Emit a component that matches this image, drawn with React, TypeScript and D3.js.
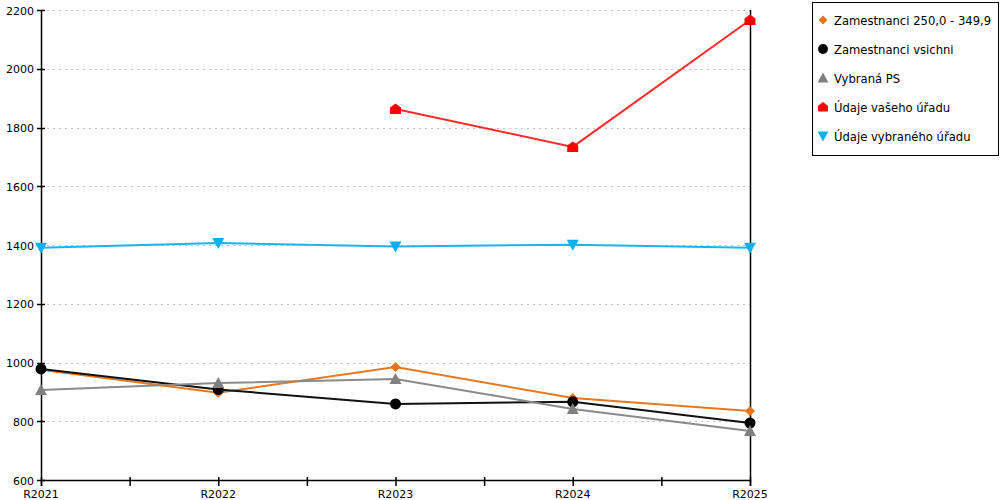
import React from "react";
import * as d3 from "d3";

const categories = ["R2021", "R2022", "R2023", "R2024", "R2025"];
const yTicks = [600, 800, 1000, 1200, 1400, 1600, 1800, 2000, 2200];

const seriesNames = [
  "Zamestnanci 250,0 - 349,9",
  "Zamestnanci vsichni",
  "Vybraná PS",
  "Údaje vašeho úřadu",
  "Údaje vybraného úřadu",
];
const orangeValues: (number | null)[] = [975, 897, 985, 879, 835];
const blackValues: (number | null)[] = [978, 908, 859, 866, 794];
const grayValues: (number | null)[] = [906, 930, 944, 842, 767];
const redValues: (number | null)[] = [null, null, 1863, 1734, 2166];
const blueValues: (number | null)[] = [1391, 1407, 1395, 1401, 1391];

const seriesValues = [orangeValues, blackValues, grayValues, redValues, blueValues];
const seriesColors = ["#e8731a", "#000000", "#808080", "#ff0000", "#0ab0ef"];
const lineColors = ["#e8771e", "#111111", "#8a8a8a", "#ff2a2a", "#1ab4f0"];
const markerKinds = ["diamond", "circle", "triangleUp", "house", "triangleDown"];

function markerPath(kind: string): string {
  switch (kind) {
    case "diamond":
      return "M0,-5L5,0L0,5L-5,0Z";
    case "circle":
      return "M5.5,0A5.5,5.5 0 1,1 -5.5,0A5.5,5.5 0 1,1 5.5,0Z";
    case "triangleUp":
      return "M0,-6L6,5L-6,5Z";
    case "house":
      return "M0,-5.5L5.5,-1.5L5.5,5L-5.5,5L-5.5,-1.5Z";
    case "triangleDown":
      return "M-6,-5L6,-5L0,6Z";
  }
  return "";
}

export default function App() {
  const width = 1000;
  const height = 500;
  const left = 41;
  const right = 750;
  const top = 10;
  const bottom = 480;

  const x = d3
    .scalePoint<string>()
    .domain(categories)
    .range([left, right]);
  const y = d3.scaleLinear().domain([600, 2200]).range([bottom, top]);

  const step = x.step();
  const minorTicks = categories.slice(0, -1).map((c) => (x(c) as number) + step / 2);

  const font = "'DejaVu Sans', Verdana, sans-serif";

  return (
    <div style={{ position: "fixed", left: 0, top: 0 }}>
      <svg width={width} height={height} style={{ display: "block", background: "#fff" }}>
        {/* gridlines */}
        {yTicks.map((t) => (
          <line
            key={"g" + t}
            x1={left + 6}
            x2={right}
            y1={Math.round(y(t)) + 0.5}
            y2={Math.round(y(t)) + 0.5}
            stroke="#c0c0c0"
            strokeDasharray="2,4"
            strokeWidth={1}
          />
        ))}
        {/* axes */}
        <line x1={left + 0.5} x2={left + 0.5} y1={top} y2={bottom + 6} stroke="#000" strokeWidth={1.5} />
        <line x1={right + 0.5} x2={right + 0.5} y1={top} y2={bottom + 6} stroke="#000" strokeWidth={1.5} />
        <line x1={left} x2={right} y1={bottom + 0.5} y2={bottom + 0.5} stroke="#000" strokeWidth={1.5} />
        {yTicks.map((t) => (
          <g key={"yt" + t}>
            <line x1={left - 4} x2={left + 4} y1={Math.round(y(t)) + 0.5} y2={Math.round(y(t)) + 0.5} stroke="#000" strokeWidth={1.5} />
            <text x={left - 7} y={y(t) + 4.5} textAnchor="end" fontFamily={font} fontSize={11} fill="#000">
              {t}
            </text>
          </g>
        ))}
        {categories.map((c) => (
          <g key={"xt" + c}>
            <line x1={(x(c) as number) + 0.5} x2={(x(c) as number) + 0.5} y1={bottom - 3} y2={bottom + 6} stroke="#000" strokeWidth={1.5} />
            <text x={x(c) as number} y={498} textAnchor="middle" fontFamily={font} fontSize={11} fill="#000">
              {c}
            </text>
          </g>
        ))}
        {minorTicks.map((m, i) => (
          <line key={"mt" + i} x1={m + 0.5} x2={m + 0.5} y1={bottom - 3} y2={bottom + 6} stroke="#000" strokeWidth={1.5} />
        ))}
        {/* series */}
        {seriesValues.map((vals, si) => {
          const pts = vals.map((v, i) => ({ c: categories[i], v }));
          const line = d3
            .line<{ c: string; v: number | null }>()
            .defined((d) => d.v !== null)
            .x((d) => x(d.c) as number)
            .y((d) => y(d.v as number));
          return (
            <g key={"s" + si}>
              <path d={line(pts) || ""} fill="none" stroke={lineColors[si]} strokeWidth={2} />
              {pts
                .filter((p) => p.v !== null)
                .map((p) => (
                  <path
                    key={p.c}
                    d={markerPath(markerKinds[si])}
                    transform={`translate(${x(p.c)},${y(p.v as number)})`}
                    fill={seriesColors[si]}
                  />
                ))}
            </g>
          );
        })}
        {/* legend */}
        <rect x={812.5} y={2.5} width={186} height={153} fill="#fff" stroke="#000" strokeWidth={1} />
        {seriesNames.map((n, i) => {
          const ly = 20 + i * 29;
          return (
            <g key={"l" + i}>
              <path d={markerPath(markerKinds[i])} transform={`translate(823,${ly}) scale(0.9)`} fill={seriesColors[i]} />
              <text x={834} y={ly + 4.5} fontFamily={font} fontSize={11.6} fill="#000">
                {n}
              </text>
            </g>
          );
        })}
      </svg>
    </div>
  );
}
